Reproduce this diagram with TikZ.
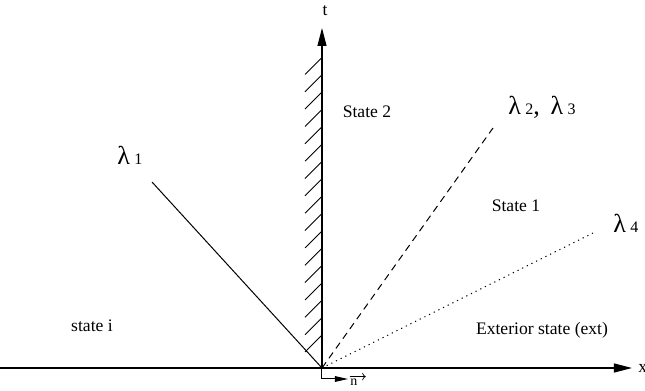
\documentclass[tikz,border=0pt]{standalone}
\usepackage{fontspec}
\setmainfont{Liberation Serif}
\usetikzlibrary{arrows.meta, positioning}

\begin{document}
\begin{tikzpicture}[x=0.5pt, y=-0.5pt,
    axis/.style={line width=0.6pt, -{Triangle[length=9pt, width=4.5pt]}},
    wave/.style={line width=0.5pt},
    hatch/.style={line width=0.45pt},
    normal/.style={line width=0.5pt, -{Triangle[length=6.5pt, width=2.8pt]}},
    lbl/.style={font=\fontsize{8.8}{10}\selectfont, inner sep=0pt},
    lam/.style={font=\fontsize{13}{15}\selectfont, inner sep=0pt, anchor=base west}]
  \useasboundingbox (0,0) rectangle (645,391);
  % axes
  \coordinate (O) at (322,368);
  \coordinate (xs) at (0,368);
  \coordinate (xe) at (632,368);
  \coordinate (te) at (322,28);
  \draw[axis] (xs) -- (xe);
  \draw[axis] (O) -- (te);
  \node[lbl, anchor=west] (xlab) at (638,368) {x};
  \node[lbl] (tlab) at (325,11) {t};
  % wall
  \foreach \k in {0,...,16}{
    \draw[hatch] (305,{352-17.35*\k}) -- (322,{335-17.35*\k});
  }
  % waves
  \coordinate (w1) at (152,182);
  \coordinate (w23) at (493,128);
  \coordinate (w4) at (593,233);
  \draw[wave] (O) -- (w1);
  \draw[wave, dash pattern=on 3.5pt off 2.5pt] (O) -- (w23);
  \draw[wave, dash pattern=on 0.6pt off 2pt] (O) -- (w4);
  \node[lam] (l1) at (117,165) {λ\,{\fontsize{8}{9}\selectfont 1}};
  \node[lam] (l23) at (508,114) {λ\,{\fontsize{8}{9}\selectfont 2},\,
    λ\,{\fontsize{8}{9}\selectfont 3}};
  \node[lam] (l4) at (613,233) {λ\,{\fontsize{8}{9}\selectfont 4}};
  % states
  \node[lbl] (s2) at (367,112) {State 2};
  \node[lbl] (s1) at (516,206) {State 1};
  \node[lbl] (si) at (92,326) {state i};
  \node[lbl] (sext) at (542,330) {Exterior state (ext)};
  % normal
  \coordinate (nc) at (322,379);
  \coordinate (nt) at (348,379);
  \draw[normal] (O) -- (nc) -- (nt);
  \node[inner sep=0pt, font=\fontsize{7}{8}\selectfont, anchor=north west]
    (n) at (350,379) {n};
  \draw[line width=0.35pt, -{To[length=1.8pt]}] ([yshift=1.2pt]n.north west)
    -- ([xshift=4pt, yshift=1.2pt]n.north east);
\end{tikzpicture}
\end{document}
